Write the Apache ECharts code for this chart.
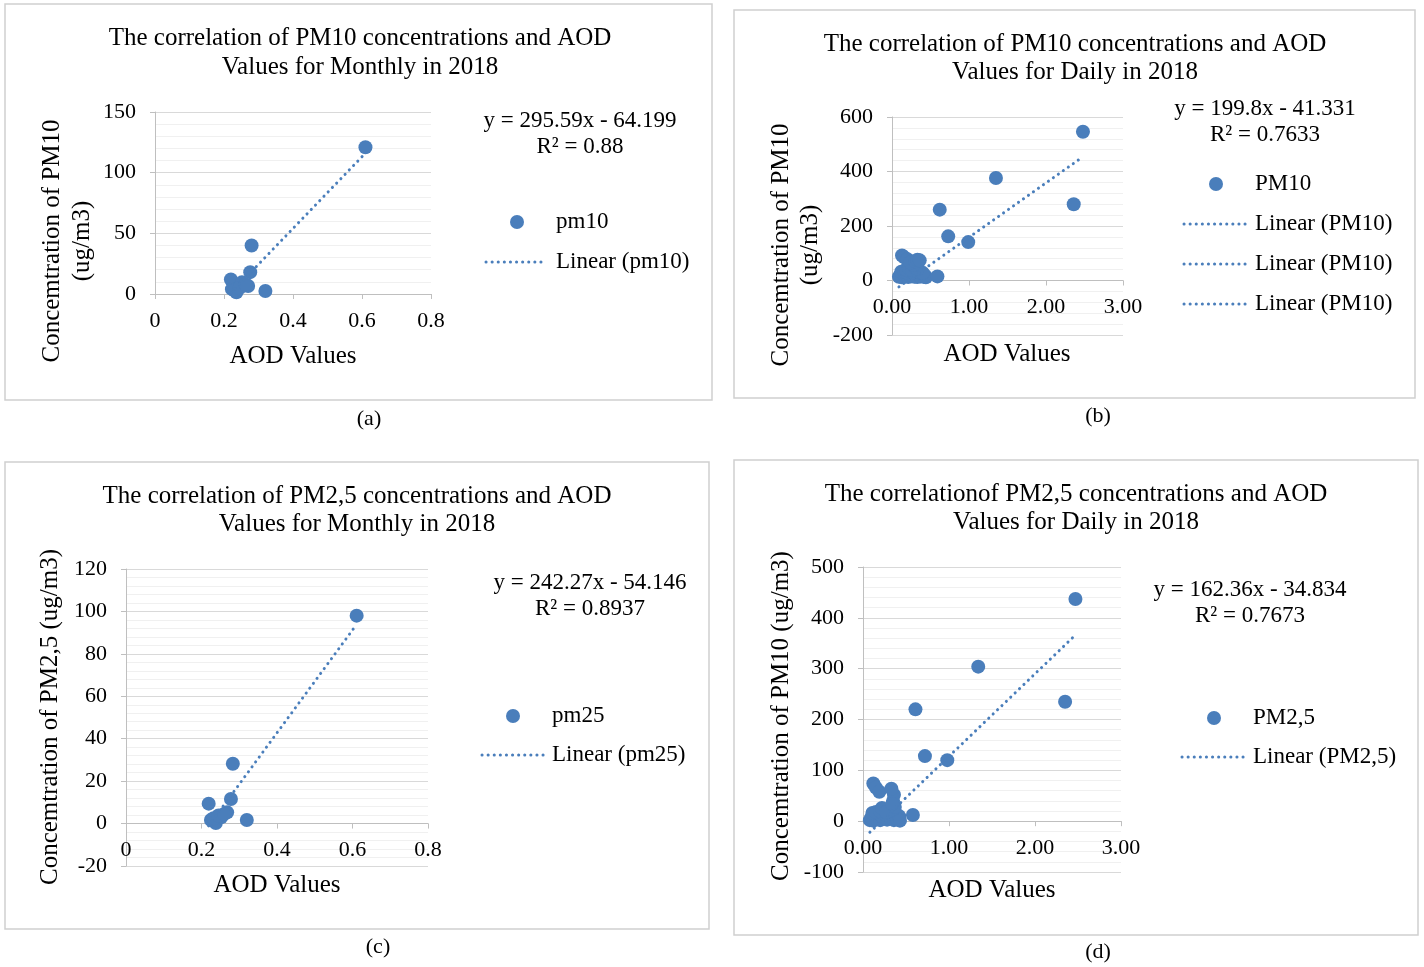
<!DOCTYPE html>
<html>
<head>
<meta charset="utf-8">
<title>PM10 / PM2,5 vs AOD</title>
<script src="https://cdn.jsdelivr.net/npm/echarts@6/dist/echarts.min.js"></script>
</head>
<body style="margin:0;padding:0;background:#fff">
<div id="main" style="width:1424px;height:967px;"></div>
<script type="text/javascript">
// ---- data ----
// (a) monthly PM10
var aodMonthA = [0.61, 0.28, 0.276, 0.22, 0.223, 0.236, 0.252, 0.27, 0.32, 0.23, 0.245, 0.262];
var pm10MonthA = [121, 40, 18, 12, 4, 1.4, 9.6, 6.6, 2.5, 3, 5, 8];
// (c) monthly PM2,5
var aodMonthC = [0.611, 0.283, 0.278, 0.219, 0.225, 0.238, 0.252, 0.268, 0.32, 0.232, 0.245, 0.26];
var pm25MonthC = [98, 28.2, 11.6, 9.4, 1.7, 0.3, 3, 5.3, 1.7, 2.5, 3.8, 4.5];
// (b) daily PM10 (dense cluster estimated, outliers read individually)
var aodDayB = [0.09, 0.11, 0.13, 0.15, 0.17, 0.19, 0.21, 0.23, 0.25, 0.27, 0.29, 0.31, 0.33, 0.35, 0.37, 0.39,
  0.41, 0.43, 0.44, 0.12, 0.16, 0.2, 0.24, 0.28, 0.32, 0.36, 0.4,
  0.18, 0.22, 0.26, 0.3, 0.33, 0.28,
  0.13, 0.16, 0.2, 0.24, 0.3, 0.33, 0.36,
  0.59, 0.62, 0.73, 0.99, 1.35, 2.36, 2.48];
var pm10DayB = [14, 20, 12, 25, 15, 30, 13, 22, 16, 28, 14, 24, 13, 20, 15, 26,
  14, 18, 12, 32, 34, 28, 33, 30, 34, 30, 28,
  40, 45, 38, 48, 42, 58,
  92, 85, 78, 66, 70, 76, 74,
  15, 260, 162, 141, 376, 280, 546];
// (d) daily PM2,5
var aodDayD = [0.08, 0.1, 0.12, 0.14, 0.16, 0.18, 0.2, 0.22, 0.24, 0.26, 0.28, 0.3, 0.32, 0.34, 0.36, 0.38,
  0.4, 0.42, 0.43, 0.11, 0.15, 0.2, 0.25, 0.22, 0.3, 0.27,
  0.37, 0.35, 0.36, 0.34,
  0.12, 0.15, 0.19, 0.33,
  0.58, 0.61, 0.72, 0.98, 1.34, 2.35, 2.47];
var pm25DayD = [2, 8, 1, 12, 4, 14, 2, 10, 5, 15, 3, 11, 6, 13, 2, 9,
  4, 10, 1, 16, 18, 20, 22, 26, 20, 18,
  28, 40, 52, 34,
  74, 66, 58, 64,
  12, 220, 128, 120, 304, 235, 437];
// trend equations printed on the chart: [slope, intercept]
var trendA = [295.59, -64.199];
var trendB = [199.8, -41.331];
var trendC = [242.27, -54.146];
var trendD = [162.36, -34.834];

var BLUE = '#4a7ebb';
var FONT = '"Liberation Serif", "Times New Roman", serif';

function pairs(xs, ys) {
  return xs.map(function (x, i) { return [x, ys[i]]; });
}
function trendPoints(xs, t) {
  var lo = Math.min.apply(null, xs), hi = Math.max.apply(null, xs);
  return [[lo, t[0] * lo + t[1]], [hi, t[0] * hi + t[1]]];
}

var grids = [
  {left: 155, top: 112, width: 276, height: 182},
  {left: 892, top: 117, width: 231, height: 218},
  {left: 126, top: 569, width: 302, height: 297},
  {left: 863, top: 567, width: 258, height: 305}
];
var yRanges = [[0, 150, 50], [-200, 600, 200], [-20, 120, 20], [-100, 500, 100]];

function xAx(i, max, interval, dec) {
  // put the whole x axis (line, ticks, labels) on y = 0
  var r = yRanges[i];
  var shift = grids[i].height * (0 - r[0]) / (r[1] - r[0]);
  return {
    gridIndex: i, type: 'value', min: 0, max: max, interval: interval,
    offset: -shift,
    axisLine: {onZero: false, lineStyle: {color: '#bfbfbf', width: 1}},
    axisTick: {show: true, length: 5, lineStyle: {color: '#bfbfbf'}},
    axisLabel: {
      fontFamily: FONT, fontSize: 22, color: '#000', margin: 16,
      formatter: function (v) { return dec ? v.toFixed(dec) : String(Math.round(v * 10) / 10); }
    },
    splitLine: {show: false}
  };
}
function yAx(i) {
  var r = yRanges[i];
  return {
    gridIndex: i, type: 'value', min: r[0], max: r[1], interval: r[2],
    axisLine: {show: true, onZero: false, lineStyle: {color: '#bfbfbf', width: 1}},
    axisTick: {show: true, length: 5, lineStyle: {color: '#bfbfbf'}},
    axisLabel: {fontFamily: FONT, fontSize: 22, color: '#000', margin: 19},
    splitLine: {show: true, lineStyle: {color: '#d9d9d9', width: 1}},
    minorTick: {show: false, splitNumber: 5},
    minorSplitLine: {show: true, lineStyle: {color: '#f0f0f0', width: 1}}
  };
}

function scatter(i, xs, ys) {
  return {type: 'scatter', xAxisIndex: i, yAxisIndex: i, data: pairs(xs, ys),
    symbolSize: 14, itemStyle: {color: BLUE, opacity: 1}};
}
function trend(i, xs, t) {
  return {type: 'line', xAxisIndex: i, yAxisIndex: i, data: trendPoints(xs, t),
    showSymbol: false, symbol: 'none', z: 3,
    lineStyle: {color: BLUE, width: 3, type: [0.1, 6], cap: 'round'}};
}

// text helpers for graphic layer
function txt(x, y, s, size, extra) {
  var o = {type: 'text', x: x, y: y, silent: true,
    style: {text: s, font: size + 'px ' + FONT, fill: '#000', align: 'center', verticalAlign: 'middle'}};
  if (extra) { for (var k in extra) o[k] = extra[k]; }
  return o;
}
function leftTxt(x, y, s) {
  return {type: 'text', x: x, y: y, silent: true,
    style: {text: s, font: '23px ' + FONT, fill: '#000', align: 'left', verticalAlign: 'middle'}};
}
function box(x, y, w, h) {
  return {type: 'rect', silent: true, shape: {x: x, y: y, width: w, height: h},
    style: {fill: 'none', stroke: '#d0d0d0', lineWidth: 1.5}};
}
function legDot(cx, cy) {
  return {type: 'circle', silent: true, shape: {cx: cx, cy: cy, r: 7}, style: {fill: BLUE}};
}
function legLine(x1, x2, y) {
  return {type: 'line', silent: true, shape: {x1: x1, y1: y, x2: x2, y2: y},
    style: {stroke: BLUE, lineWidth: 3, lineDash: [0.1, 6], lineCap: 'round'}};
}
var ROT = Math.PI / 2;

var graphics = [
  box(5, 4, 707, 396), box(734, 10, 681, 388), box(5, 462, 704, 467), box(734, 460, 684, 475),
  // titles
  txt(360, 38, 'The correlation of PM10 concentrations and AOD', 25),
  txt(360, 67, 'Values for Monthly in 2018', 25),
  txt(1075, 44, 'The correlation of PM10 concentrations and AOD', 25),
  txt(1075, 72, 'Values for Daily in 2018', 25),
  txt(357, 496, 'The correlation of PM2,5 concentrations and AOD', 25),
  txt(357, 524, 'Values for Monthly in 2018', 25),
  txt(1076, 494, 'The correlationof PM2,5 concentrations and AOD', 25),
  txt(1076, 522, 'Values for Daily in 2018', 25),
  // axis names
  txt(293, 356, 'AOD Values', 25),
  txt(1007, 354, 'AOD Values', 25),
  txt(277, 885, 'AOD Values', 25),
  txt(992, 890, 'AOD Values', 25),
  txt(52, 241, 'Concemtration of PM10', 25, {rotation: ROT}),
  txt(82, 241, '(ug/m3)', 25, {rotation: ROT}),
  txt(781, 245, 'Concemtration of PM10', 25, {rotation: ROT}),
  txt(810, 245, '(ug/m3)', 25, {rotation: ROT}),
  txt(50, 717, 'Concemtration of PM2,5 (ug/m3)', 25, {rotation: ROT}),
  txt(781, 716, 'Concemtration of PM10 (ug/m3)', 25, {rotation: ROT}),
  // equations
  txt(580, 121, 'y = 295.59x - 64.199', 23),
  txt(580, 147, 'R² = 0.88', 23),
  txt(1265, 109, 'y = 199.8x - 41.331', 23),
  txt(1265, 135, 'R² = 0.7633', 23),
  txt(590, 583, 'y = 242.27x - 54.146', 23),
  txt(590, 609, 'R² = 0.8937', 23),
  txt(1250, 590, 'y = 162.36x - 34.834', 23),
  txt(1250, 616, 'R² = 0.7673', 23),
  // legends
  legDot(517, 222), leftTxt(556, 222, 'pm10'),
  legLine(486, 547, 262), leftTxt(556, 262, 'Linear (pm10)'),
  legDot(1216, 184), leftTxt(1255, 184, 'PM10'),
  legLine(1184, 1246, 224), leftTxt(1255, 224, 'Linear (PM10)'),
  legLine(1184, 1246, 264), leftTxt(1255, 264, 'Linear (PM10)'),
  legLine(1184, 1246, 304), leftTxt(1255, 304, 'Linear (PM10)'),
  legDot(513, 716), leftTxt(552, 716, 'pm25'),
  legLine(482, 544, 755), leftTxt(552, 755, 'Linear (pm25)'),
  legDot(1214, 718), leftTxt(1253, 718, 'PM2,5'),
  legLine(1182, 1244, 757), leftTxt(1253, 757, 'Linear (PM2,5)'),
  // captions
  txt(369, 419, '(a)', 22),
  txt(1098, 416, '(b)', 22),
  txt(378, 947, '(c)', 22),
  txt(1098, 952, '(d)', 22)
];

var chart = echarts.init(document.getElementById('main'));
chart.setOption({
  animation: false,
  backgroundColor: '#fff',
  grid: grids,
  xAxis: [xAx(0, 0.8, 0.2, 0), xAx(1, 3, 1, 2), xAx(2, 0.8, 0.2, 0), xAx(3, 3, 1, 2)],
  yAxis: [yAx(0), yAx(1), yAx(2), yAx(3)],
  series: [
    scatter(0, aodMonthA, pm10MonthA), trend(0, aodMonthA, trendA),
    scatter(1, aodDayB, pm10DayB), trend(1, aodDayB, trendB),
    scatter(2, aodMonthC, pm25MonthC), trend(2, aodMonthC, trendC),
    scatter(3, aodDayD, pm25DayD), trend(3, aodDayD, trendD)
  ],
  graphic: graphics
});
</script>
</body>
</html>
